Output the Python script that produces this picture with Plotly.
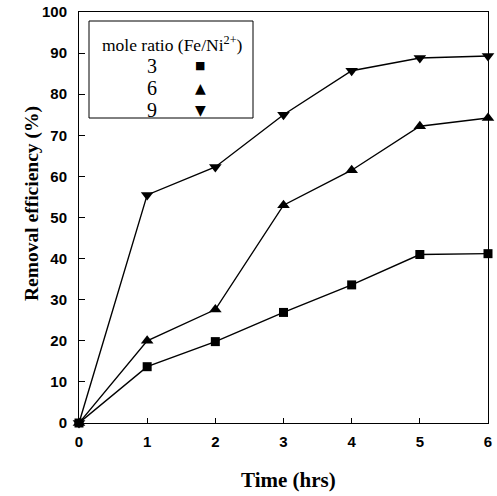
import plotly.graph_objects as go

time_hrs = [0, 1, 2, 3, 4, 5, 6]
ratio3 = [0, 13.7, 19.8, 26.9, 33.6, 41.0, 41.2]
ratio6 = [0, 20.0, 27.6, 53.0, 61.5, 72.2, 74.2]
ratio9 = [0, 55.5, 62.3, 75.0, 85.7, 88.8, 89.3]
series_names = ["3", "6", "9"]
series_symbols = ["square", "triangle-up", "triangle-down"]
legend_glyphs = ["■", "▲", "▼"]
marker_sizes = [9, 11, 11]
x_title = "Time (hrs)"
y_title = "Removal efficiency (%)"

fig = go.Figure()
for name, vals, sym, ms in zip(series_names, [ratio3, ratio6, ratio9], series_symbols, marker_sizes):
    fig.add_trace(go.Scatter(
        x=time_hrs, y=vals, name=name, mode="lines+markers",
        line=dict(color="black", width=1.4),
        marker=dict(symbol=sym, size=ms, color="black"),
        showlegend=False, cliponaxis=False,
    ))

PX0, PX1, PY0, PY1 = 79, 488, 12, 423


def px(x):
    return (x - PX0) / (PX1 - PX0)


def py(y):
    return (PY1 - y) / (PY1 - PY0)


# custom legend box
fig.add_shape(type="rect", xref="paper", yref="paper",
              x0=px(89), x1=px(253), y0=py(118), y1=py(21),
              line=dict(color="black", width=1), fillcolor="white")
fig.add_annotation(xref="paper", yref="paper", x=px(172), y=py(44),
                   xanchor="center", yanchor="middle",
                   text="mole ratio (Fe/Ni<sup>2+</sup>)", showarrow=False,
                   font=dict(family="Liberation Serif", size=17.5, color="black"))
row_y = [66, 88, 110]
for name, glyph, ry in zip(series_names, legend_glyphs, row_y):
    fig.add_annotation(xref="paper", yref="paper", x=px(152), y=py(ry),
                       xanchor="center", yanchor="middle",
                       text=name, showarrow=False,
                       font=dict(family="Liberation Serif", size=20, color="black"))
    fig.add_annotation(xref="paper", yref="paper", x=px(200), y=py(ry),
                       xanchor="center", yanchor="middle",
                       text=glyph, showarrow=False,
                       font=dict(family="DejaVu Sans", size=11 if glyph == "■" else 14, color="black"))

# axis titles
fig.add_annotation(xref="paper", yref="paper", x=px(288), y=py(480),
                   xanchor="center", yanchor="middle", showarrow=False,
                   text="<b>" + x_title + "</b>",
                   font=dict(family="Liberation Serif", size=21, color="black"))
fig.add_annotation(xref="paper", yref="paper", x=px(32), y=py(204),
                   xanchor="center", yanchor="middle", showarrow=False, textangle=-90,
                   text="<b>" + y_title + "</b>",
                   font=dict(family="Liberation Serif", size=19.5, color="black"))

fig.update_layout(
    width=497, height=496,
    margin=dict(l=79, r=9, t=12, b=73, autoexpand=False),
    plot_bgcolor="white", paper_bgcolor="white",
    font=dict(family="Liberation Sans", color="black"),
)
fig.update_xaxes(
    range=[0, 6], tickmode="linear", tick0=0, dtick=1,
    ticks="inside", ticklen=5, tickcolor="black",
    showline=True, linecolor="black", linewidth=1, mirror=True,
    showgrid=False, zeroline=False, automargin=False,
    ticklabelstandoff=5,
    tickfont=dict(family="Liberation Sans", size=15, color="black", weight="bold"),
)
fig.update_yaxes(
    range=[0, 100], tickmode="linear", tick0=0, dtick=10,
    ticks="inside", ticklen=6, tickcolor="black",
    showline=True, linecolor="black", linewidth=1, mirror=True,
    showgrid=False, zeroline=False, automargin=False,
    ticklabelstandoff=8,
    tickfont=dict(family="Liberation Sans", size=15, color="black", weight="bold"),
)

fig.write_html("out.html", config={"displayModeBar": False},
               post_script="document.body.style.margin='0';document.body.style.overflow='hidden';")
